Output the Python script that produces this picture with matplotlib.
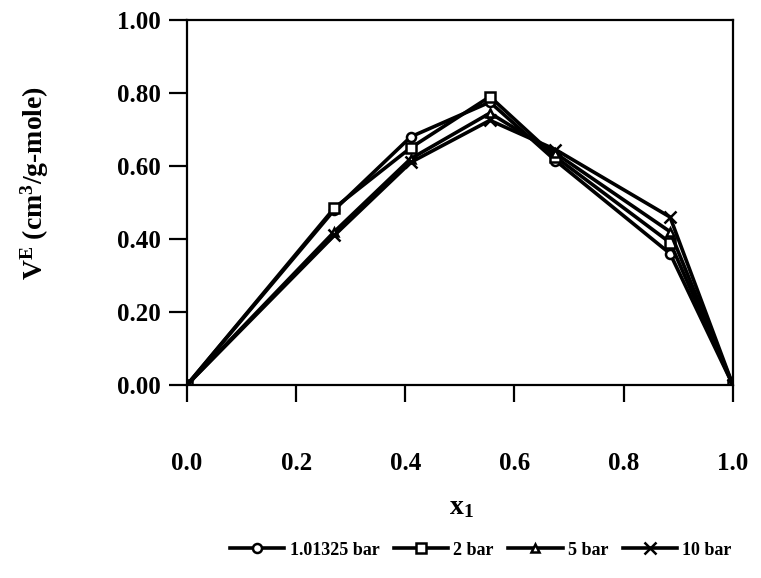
import matplotlib
matplotlib.use("Agg")
import matplotlib.pyplot as plt

plt.rcParams['font.family'] = ['Liberation Serif', 'DejaVu Serif']
plt.rcParams['font.weight'] = 'bold'
plt.rcParams['mathtext.fontset'] = 'custom'
plt.rcParams['mathtext.rm'] = 'Liberation Serif:bold'
plt.rcParams['mathtext.it'] = 'Liberation Serif:bold'
plt.rcParams['mathtext.bf'] = 'Liberation Serif:bold'

# mole fraction of component 1
x1 = [0.0, 0.27, 0.41, 0.555, 0.675, 0.885, 1.0]

# excess molar volume at each pressure
ve_1bar = [0.0, 0.48, 0.68, 0.775, 0.615, 0.36, 0.0]
ve_2bar = [0.0, 0.485, 0.65, 0.79, 0.625, 0.39, 0.0]
ve_5bar = [0.0, 0.42, 0.62, 0.745, 0.635, 0.42, 0.0]
ve_10bar = [0.0, 0.41, 0.61, 0.725, 0.645, 0.46, 0.0]

series_labels = ['1.01325 bar', '2 bar', '5 bar', '10 bar']
x_ticks = [0.0, 0.2, 0.4, 0.6, 0.8, 1.0]
y_ticks = [0.0, 0.2, 0.4, 0.6, 0.8, 1.0]

fig = plt.figure(figsize=(7.61, 5.78), dpi=100)
ax = fig.add_axes([0.2457, 0.334, 0.7173, 0.6314])

styles = [
    dict(marker='o', ms=6.5),
    dict(marker='s', ms=6.5),
    dict(marker='^', ms=6),
    dict(marker='x', ms=8),
]
for vals, lab, st in zip([ve_1bar, ve_2bar, ve_5bar, ve_10bar], series_labels, styles):
    ax.plot(x1, vals, color='black', lw=2.6, mfc='white', mec='black',
            mew=1.8, label=lab, **st)

ax.set_xlim(0, 1)
ax.set_ylim(0, 1)
ax.set_xticks(x_ticks)
ax.set_yticks(y_ticks)
ax.set_xticklabels(['%.1f' % v for v in x_ticks])
ax.set_yticklabels(['%.2f' % v for v in y_ticks])

for s in ax.spines.values():
    s.set_linewidth(1.6)
ax.tick_params(axis='x', direction='out', length=12, width=1.6, pad=36, labelsize=18)
ax.tick_params(axis='y', direction='out', length=13, width=1.6, pad=6, labelsize=18)

fig.text(0.607, 0.122, r'x$_1$', ha='center', va='center', fontsize=20)
fig.text(0.046, 0.683, r'V$^E$ (cm$^3$/g-mole)', rotation=90,
         ha='center', va='center', fontsize=20)

fig.legend(loc='center', bbox_to_anchor=(0.632, 0.048), ncol=4, frameon=False,
           handlelength=3.0, columnspacing=0.8, handletextpad=0.3,
           prop={'family': 'Liberation Serif', 'weight': 'bold', 'size': 13})

fig.savefig('out.png', dpi=100)
